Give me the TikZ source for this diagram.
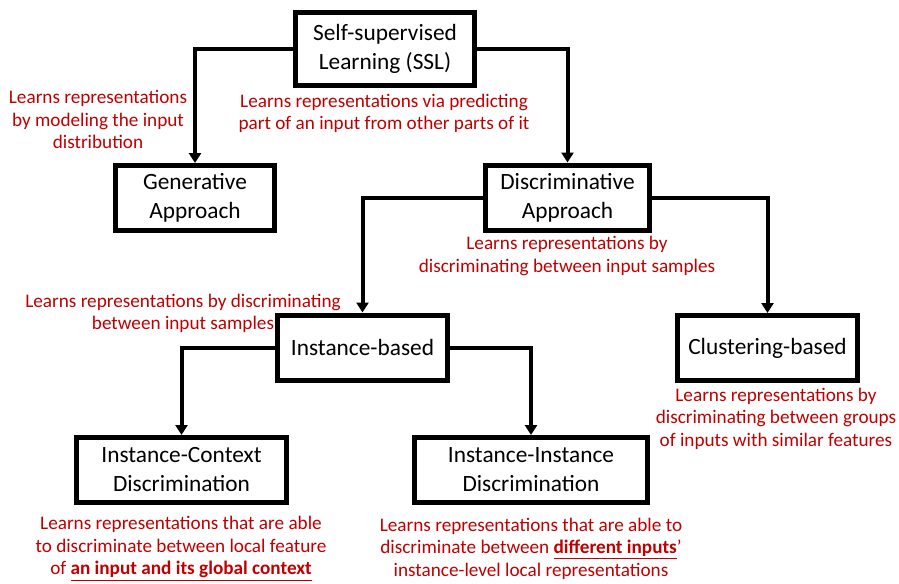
\documentclass[tikz,border=0pt]{standalone}
\usepackage{fontspec}
\setmainfont{Carlito}
\usepackage{tikz}
\usetikzlibrary{arrows.meta}
\definecolor{notered}{HTML}{C00000}

\begin{document}
\begin{tikzpicture}[x=0.75pt, y=-0.75pt,
        stage/.style={draw=black, line width=3.75pt, inner sep=0pt, align=center,
            minimum height=48.75pt, font=\fontsize{17.5}{21.75}\selectfont},
        note/.style={text=notered, align=center, inner sep=0pt,
            font=\fontsize{14.4}{16.9}\selectfont},
        link/.style={draw=black, line width=3pt,
            -{Triangle[width=9pt, length=7.5pt]}}]
        \useasboundingbox (0,0) rectangle (899,583);

        % boxes
        \node[stage, minimum width=134.25pt, minimum height=54.75pt] (ssl) at (385,49) {Self-supervised\\Learning (SSL)};
        \node[stage, minimum width=119.25pt] (gen) at (195,198) {Generative\\Approach};
        \node[stage, minimum width=123pt] (disc) at (567.5,197.5) {Discriminative\\Approach};
        \node[stage, minimum width=127.5pt] (inst) at (362.5,347.5) {Instance-based};
        \node[stage, minimum width=135pt] (clust) at (767.5,348) {Clustering-based};
        \node[stage, minimum width=157.5pt] (ctx) at (181.5,470) {Instance-Context\\Discrimination};
        \node[stage, minimum width=174.75pt] (pair) at (531,470) {Instance-Instance\\Discrimination};

        % connectors
        \draw[link] (ssl.west) -| (gen.north);
        \draw[link] (ssl.east) -| (disc.north);
        \draw[link] (disc.west) -| (inst.north);
        \draw[link] (disc.east) -| (clust.north);
        \draw[link] (inst.west) -| (ctx.north);
        \draw[link] (inst.east) -| (pair.north);

        % red notes
        \node[note] (genNote) at (98,119.5) {Learns representations\\by modeling the input\\distribution};
        \node[note] (sslNote) at (384,113.5) {Learns representations via predicting\\part of an input from other parts of it};
        \node[note] (discNote) at (567,256) {Learns representations by\\discriminating between input samples};
        \node[note] (instNote) at (183,313.5) {Learns representations by discriminating\\between input samples};
        \node[note] (clustNote) at (776,418.5) {Learns representations by\\discriminating between groups\\of inputs with similar features};
        \node[note] (ctxNote) at (181,548.5) {Learns representations that are able\\to discriminate between local feature\\of \textbf{\underline{an input and its global context}}};
        \node[note] (pairNote) at (531,548.5) {Learns representations that are able to\\discriminate between \textbf{\underline{different inputs}}’\\instance-level local representations};
\end{tikzpicture}
\end{document}
